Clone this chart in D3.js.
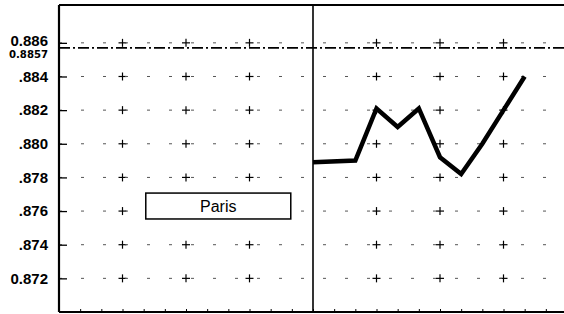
<!DOCTYPE html>
<html>
<head>
<meta charset="utf-8">
<script src="https://cdn.jsdelivr.net/npm/d3@7.9.0/dist/d3.min.js"></script>
<style>
  body { margin: 0; background: #fff; }
  svg { display: block; }
</style>
</head>
<body>
<svg id="chart" width="564" height="314"></svg>
<script>
// time index (0 = split line) and observed values
const xIdx = [0, 2, 3, 4, 5, 6, 7, 8, 9, 10];
const values = [0.8789, 0.8790, 0.8821, 0.8810, 0.8821, 0.8792, 0.8782, 0.8800, 0.8820, 0.8840];
const yTicks = [0.886, 0.884, 0.882, 0.880, 0.878, 0.876, 0.874, 0.872];
const yTickLabels = ["0.886", ".884", ".882", ".880", ".878", ".876", ".874", "0.872"];
const gridX = [-9, -6, -3, 3, 6, 9];
const refValue = 0.8857;
const refLabel = "0.8857";
const boxLabel = "Paris";

const svg = d3.select("#chart");
const x = d3.scaleLinear().domain([-12, 12]).range([59, 567]);
const y = d3.scaleLinear().domain([0.870, 0.88825]).range([312, 5]);

// grid crosses
const cross = svg.append("g").attr("stroke", "#000").attr("stroke-width", 1.2);
gridX.forEach(gx => {
  yTicks.forEach(v => {
    cross.append("line").attr("x1", x(gx) - 4).attr("x2", x(gx) + 4)
      .attr("y1", y(v)).attr("y2", y(v));
    cross.append("line").attr("x1", x(gx)).attr("x2", x(gx))
      .attr("y1", y(v) - 4).attr("y2", y(v) + 4);
  });
});

// faint broken horizontal grid
svg.append("g").selectAll("line").data(yTicks).join("line")
  .attr("x1", x(-12)).attr("x2", x(12))
  .attr("y1", d => y(d)).attr("y2", d => y(d))
  .attr("stroke", "#555").attr("stroke-width", 1)
  .attr("stroke-dasharray", "3,19");

// left axis
const yAxis = d3.axisLeft(y).tickValues(yTicks).tickSize(-8).tickPadding(10)
  .tickFormat((d, i) => yTickLabels[i]);
const ya = svg.append("g").attr("transform", `translate(${x(-12)},0)`).call(yAxis);
ya.select(".domain").remove();
ya.selectAll(".tick line").attr("stroke-width", 1.3);
ya.selectAll(".tick text")
  .attr("font-family", "Liberation Sans, Arial, sans-serif")
  .attr("font-size", 15).attr("font-weight", "bold").attr("fill", "#000")
  .attr("x", -11)
  .attr("dy", (d, i) => i === 0 ? "0.2em" : "0.32em");

// bottom minor ticks
const xa = svg.append("g").attr("transform", `translate(0,${y(0.870)})`)
  .call(d3.axisBottom(x).ticks(24).tickSize(-3).tickFormat(""));
xa.select(".domain").remove();
xa.selectAll(".tick line").attr("stroke-width", 1);

// frame: left, top, bottom, split line
const frame = svg.append("g").attr("stroke", "#000");
frame.append("line").attr("x1", x(-12)).attr("x2", x(-12)).attr("y1", y(0.88825)).attr("y2", y(0.870)).attr("stroke-width", 2.2);
frame.append("line").attr("x1", x(-12)).attr("x2", x(12)).attr("y1", y(0.88825)).attr("y2", y(0.88825)).attr("stroke-width", 2.2);
frame.append("line").attr("x1", x(-12)).attr("x2", x(12)).attr("y1", y(0.870)).attr("y2", y(0.870)).attr("stroke-width", 2);
frame.append("line").attr("x1", x(0)).attr("x2", x(0)).attr("y1", y(0.88825)).attr("y2", y(0.870)).attr("stroke-width", 1.6);

// reference dash-dot line
svg.append("line")
  .attr("x1", x(-12)).attr("x2", x(12))
  .attr("y1", y(refValue)).attr("y2", y(refValue))
  .attr("stroke", "#000").attr("stroke-width", 1.8)
  .attr("stroke-dasharray", "11,3,2,3");
svg.append("text")
  .attr("x", x(-12) - 11).attr("y", y(refValue) + 10)
  .attr("text-anchor", "end")
  .attr("font-family", "Liberation Sans Narrow, DejaVu Sans Condensed, sans-serif")
  .attr("font-size", 10.5).attr("font-weight", "bold")
  .attr("textLength", 39).attr("lengthAdjust", "spacingAndGlyphs")
  .text(refLabel);

// data line
svg.append("path")
  .datum(xIdx.map((d, i) => [d, values[i]]))
  .attr("fill", "none").attr("stroke", "#000").attr("stroke-width", 4.5)
  .attr("stroke-linejoin", "miter")
  .attr("d", d3.line().x(d => x(d[0])).y(d => y(d[1])));

// label box
const bx = x(-7.9), by = y(0.87707), bw = x(-1.05) - x(-7.9), bh = y(0.87553) - y(0.87707);
svg.append("rect").attr("x", bx).attr("y", by).attr("width", bw).attr("height", bh)
  .attr("fill", "#fff").attr("stroke", "#000").attr("stroke-width", 1.5);
svg.append("text").attr("x", bx + bw / 2).attr("y", by + bh / 2 + 6)
  .attr("text-anchor", "middle")
  .attr("font-family", "Liberation Sans, Arial, sans-serif").attr("font-size", 16)
  .text(boxLabel);
</script>
</body>
</html>
